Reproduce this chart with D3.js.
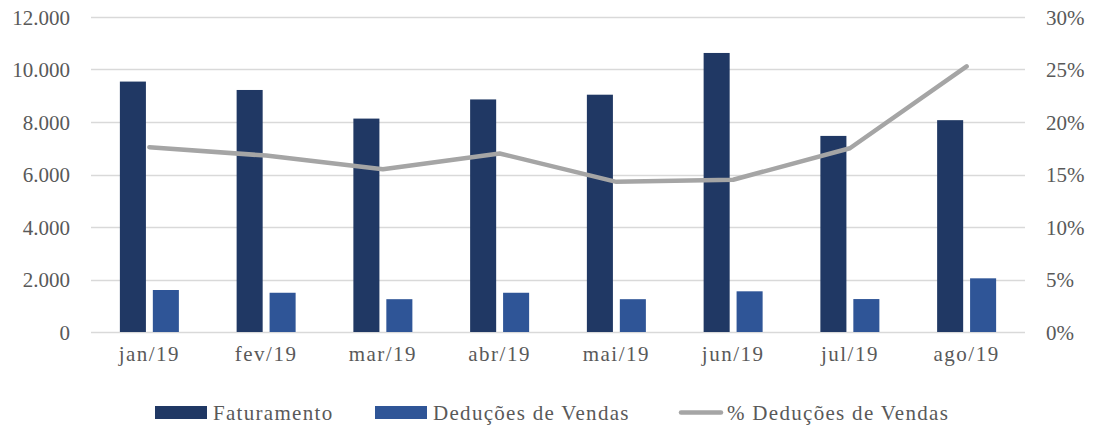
<!DOCTYPE html>
<html>
<head>
<meta charset="utf-8">
<style>
body {
  margin: 0;
  background: #fff;
}
svg {
  display: block;
}
text {
  font-family: "Liberation Serif", "Times New Roman", serif;
  fill: #595959;
}
.grid line {
  stroke: #d9d9d9;
  stroke-width: 1.3px;
}
</style>
<script src="https://cdn.jsdelivr.net/npm/d3@7"></script>
</head>
<body>
<script type="text/javascript">
var months = ["jan/19", "fev/19", "mar/19", "abr/19", "mai/19", "jun/19", "jul/19", "ago/19"];
var faturamento = [9540, 9220, 8130, 8860, 9040, 10630, 7470, 8070];
var deducoes = [1600, 1495, 1250, 1495, 1250, 1550, 1255, 2045];
var pctDeducoes = [0.176, 0.168, 0.155, 0.170, 0.143, 0.145, 0.175, 0.253];
var leftTicks = [0, 2000, 4000, 6000, 8000, 10000, 12000];
var rightTicks = [0, 0.05, 0.10, 0.15, 0.20, 0.25, 0.30];
var seriesNames = ["Faturamento", "Deduções de Vendas", "% Deduções de Vendas"];

var width = 1094,
    height = 427;
// plot area edges (not "top": that name is taken by window.top)
var pLeft = 91, pRight = 1025, pTop = 17, pBottom = 332;

var color = d3.scaleOrdinal()
	.domain(seriesNames)
	.range(["#203864", "#2f5597", "#a5a5a5"]);

var svg = d3.select("body").append("svg")
	.attr("width", width)
	.attr("height", height);

var x0 = d3.scaleBand()
	.domain(months)
	.range([pLeft, pRight]);

var x1 = d3.scaleBand()
	.domain(seriesNames.slice(0, 2))
	.range([x0.bandwidth() / 2 - 29.5, x0.bandwidth() / 2 + 29.5])
	.paddingInner(0.21);

var yL = d3.scaleLinear().domain([0, 12000]).range([pBottom, pTop]);
var yR = d3.scaleLinear().domain([0, 0.30]).range([pBottom, pTop]);

var fmtL = function(d) { return d3.format(",")(d).replace(/,/g, "."); };
var fmtR = d3.format(".0%");

/* ------- GRID -------*/
svg.append("g")
	.attr("class", "grid")
	.selectAll("line")
	.data(leftTicks)
	.enter().append("line")
	.attr("x1", pLeft)
	.attr("x2", pRight)
	.attr("y1", function(d) { return Math.round(yL(d)) + 0.5; })
	.attr("y2", function(d) { return Math.round(yL(d)) + 0.5; });

/* ------- AXES -------*/
var axisL = svg.append("g")
	.attr("transform", "translate(" + (pLeft - 21) + ",0)")
	.call(d3.axisLeft(yL).tickValues(leftTicks).tickFormat(fmtL).tickSize(0).tickPadding(0));
axisL.select(".domain").remove();
axisL.selectAll("text")
	.attr("dy", "0.34em")
	.style("font-size", "21px")
	.attr("fill", "#595959");

var axisR = svg.append("g")
	.attr("transform", "translate(" + (pRight + 21) + ",0)")
	.call(d3.axisRight(yR).tickValues(rightTicks).tickFormat(fmtR).tickSize(0).tickPadding(0));
axisR.select(".domain").remove();
axisR.selectAll("text")
	.attr("dy", "0.34em")
	.style("font-size", "21px")
	.attr("fill", "#595959");

var axisB = svg.append("g")
	.attr("transform", "translate(0," + pBottom + ")")
	.call(d3.axisBottom(x0).tickSize(0).tickPadding(14));
axisB.select(".domain").remove();
axisB.selectAll("text")
	.style("font-size", "21px")
	.style("letter-spacing", "1.5px")
	.attr("fill", "#595959");

/* ------- BARS -------*/
var rows = months.map(function(m, i) {
	return { month: m, values: [
		{ key: seriesNames[0], value: faturamento[i] },
		{ key: seriesNames[1], value: deducoes[i] }
	] };
});

svg.append("g")
	.attr("class", "bars")
	.selectAll("g")
	.data(rows)
	.enter().append("g")
	.attr("transform", function(d) { return "translate(" + x0(d.month) + ",0)"; })
	.selectAll("rect")
	.data(function(d) { return d.values; })
	.enter().append("rect")
	.attr("x", function(d) { return x1(d.key); })
	.attr("width", x1.bandwidth())
	.attr("y", function(d) { return yL(d.value); })
	.attr("height", function(d) { return pBottom - yL(d.value); })
	.style("fill", function(d) { return color(d.key); });

/* ------- LINE -------*/
var line = d3.line()
	.x(function(d, i) { return x0(months[i]) + x0.bandwidth() / 2; })
	.y(function(d) { return yR(d); });

svg.append("path")
	.datum(pctDeducoes)
	.attr("d", line)
	.style("fill", "none")
	.style("stroke", color(seriesNames[2]))
	.style("stroke-width", 4.5)
	.style("stroke-linecap", "round")
	.style("stroke-linejoin", "round");

/* ------- LEGEND -------*/
var legendX = [155, 375, 679];
var legend = svg.append("g")
	.attr("class", "legend")
	.selectAll("g")
	.data(seriesNames)
	.enter().append("g")
	.attr("transform", function(d, i) { return "translate(" + legendX[i] + ",406)"; });

legend.each(function(d, i) {
	var g = d3.select(this);
	if (i < 2) {
		g.append("rect")
			.attr("width", 52)
			.attr("height", 13)
			.style("fill", color(d));
	} else {
		g.append("line")
			.attr("x1", 2).attr("x2", 42)
			.attr("y1", 6.5).attr("y2", 6.5)
			.style("stroke", color(d))
			.style("stroke-width", 4.5)
			.style("stroke-linecap", "round");
	}
	g.append("text")
		.attr("x", i < 2 ? 58 : 48)
		.attr("y", 14)
		.style("font-size", "21px")
		.style("letter-spacing", "1.3px")
		.text(d);
});
</script>
</body>
</html>
